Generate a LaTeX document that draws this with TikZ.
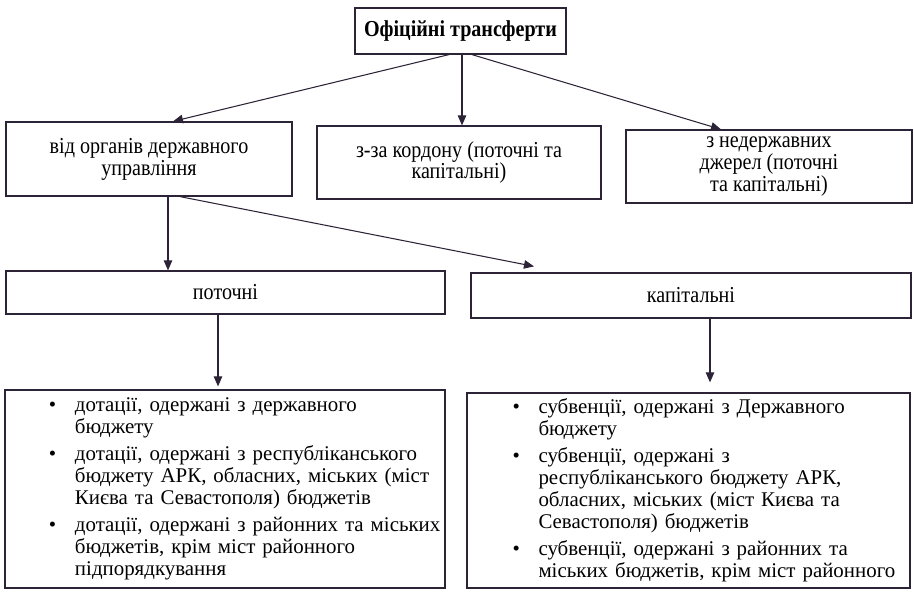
\documentclass[tikz,border=0pt]{standalone}
\usepackage{fontspec}
\setmainfont{Liberation Serif}
\newfontfamily\condfont[FakeStretch=0.88]{Liberation Serif}
\usepackage{xcolor}
\usepackage{tikz}
\usetikzlibrary{arrows.meta}
\usetikzlibrary{positioning}
\definecolor{inkline}{RGB}{45,35,55}
\newcommand*{\lbul}[1]{\hspace*{0.78cm}\makebox[0.52cm][l]{\textbullet}\mbox{#1}}
\newcommand*{\lcont}[1]{\hspace*{1.30cm}\mbox{#1}}
\tikzstyle{topnode}=[draw=inkline, line width=0.7pt, shape=rectangle, fill=white, align=center, inner sep=2pt, font=\condfont\fontsize{13}{12.5}\selectfont]
\tikzstyle{listnode}=[draw=inkline, line width=0.7pt, shape=rectangle, fill=white, align=left, inner sep=0pt, text width=8.6cm, font=\fontsize{11.9}{12.5}\selectfont]
\tikzstyle{arrline}=[-{Triangle[length=0.2cm, width=0.17cm]}, line width=0.6pt, color=inkline]

\begin{document}
\begin{tikzpicture}
\useasboundingbox (0,0) rectangle (18.28,11.98);
\node [topnode, minimum width=4.22cm, minimum height=0.92cm, font=\condfont\bfseries\fontsize{13}{14}\selectfont] (official) at (9.21,11.36) {Офіційні трансферти};
\node [topnode, minimum width=5.72cm, minimum height=1.48cm] (state) at (2.98,8.80) {від органів державного\\управління};
\node [topnode, minimum width=5.68cm, minimum height=1.46cm] (abroad) at (9.18,8.73) {з-за кордону (поточні та\\капітальні)};
\node [topnode, minimum width=5.72cm, minimum height=1.46cm] (nonstate) at (15.38,8.65) {з недержавних\\джерел (поточні\\та капітальні)};
\node [topnode, minimum width=8.78cm, minimum height=0.86cm] (current) at (4.51,6.13) {поточні};
\node [topnode, minimum width=8.80cm, minimum height=0.90cm] (capital) at (13.82,6.07) {капітальні};
\node [listnode, minimum width=8.80cm, minimum height=3.96cm] (grants) at (4.50,2.20) {%
\lbul{дотації, одержані з державного}\\
\lcont{бюджету}\\[3pt]
\lbul{дотації, одержані з республіканського}\\
\lcont{бюджету АРК, обласних, міських (міст}\\
\lcont{Києва та Севастополя) бюджетів}\\[3pt]
\lbul{дотації, одержані з районних та міських}\\
\lcont{бюджетів, крім міст районного}\\
\lcont{підпорядкування}};
\node [listnode, minimum width=8.86cm, minimum height=3.90cm] (subsidies) at (13.77,2.17) {%
\lbul{субвенції, одержані з Державного}\\
\lcont{бюджету}\\[3pt]
\lbul{субвенції, одержані з}\\
\lcont{республіканського бюджету АРК,}\\
\lcont{обласних, міських (міст Києва та}\\
\lcont{Севастополя) бюджетів}\\[3pt]
\lbul{субвенції, одержані з районних та}\\
\lcont{міських бюджетів, крім міст районного}};

\draw[arrline] ([xshift=-0.23cm]official.south) -- ([xshift=0.48cm]state.north);
\draw[arrline] ([xshift=0.03cm]official.south) -- ([xshift=0.03cm]official.south |- abroad.north);
\draw[arrline] ([xshift=0.23cm]official.south) -- ([xshift=-0.96cm]nonstate.north);
\draw[arrline] ([xshift=0.38cm]state.south) -- ([xshift=0.38cm]state.south |- current.north);
\draw[arrline] ([xshift=0.62cm]state.south) -- ([xshift=-3.14cm,yshift=0.12cm]capital.north);
\draw[arrline] ([xshift=-0.15cm]current.south) -- ([xshift=-0.15cm,yshift=0.06cm]current.south |- grants.north);
\draw[arrline] ([xshift=0.38cm]capital.south) -- ([xshift=0.38cm,yshift=0.2cm]capital.south |- subsidies.north);
\end{tikzpicture}
\end{document}
